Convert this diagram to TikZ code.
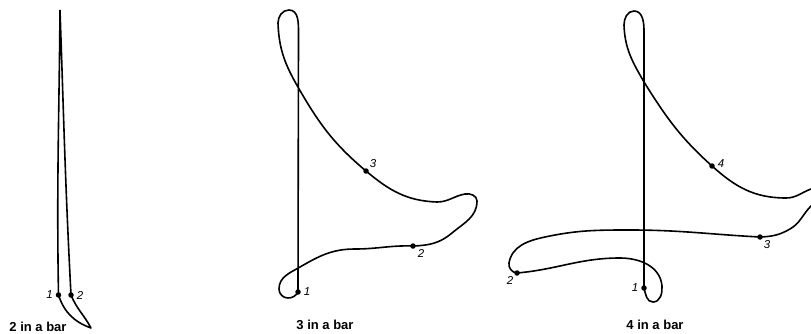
\documentclass[tikz,border=0pt]{standalone}
\usepackage{fontspec}
\setsansfont{Liberation Sans}
\usetikzlibrary{positioning}
\begin{document}
\begin{tikzpicture}
   [x=1pt, y=1pt, line width=1.6pt, line join=round,
    beat/.style={circle,fill,inner sep=0pt,minimum size=5.5pt},
    num/.style={font=\sffamily\itshape\fontsize{11.5}{13}\selectfont, inner sep=0.5pt},
    caption/.style={font=\sffamily\bfseries\fontsize{13}{15}\selectfont, inner sep=0pt}]
   \useasboundingbox (0,0) rectangle (811,333);
   \clip (0,0) rectangle (811,333);

   % 2 in a bar
   \coordinate (top2) at (60,323);
   \coordinate (tip2) at (91,5);
   \node[beat] (a1) at (58.5,38) {};
   \node[beat] (a2) at (71,38) {};
   \node[num, left=1pt of a1] (na1) {1};
   \node[num, right=1pt of a2] (na2) {2};
   \node[caption] (cap2) at (38,6) {2 in a bar};
   \draw (top2) to[out=-90.5,in=91] (a1.center) to[out=-72,in=160] (tip2)
         to[out=118,in=-68] (a2.center) to[out=93,in=-88] (top2);

   % 3 in a bar
   \node[beat] (b1) at (298,41) {};
   \node[beat] (b2) at (413,87) {};
   \node[beat] (b3) at (366,162) {};
   \node[num, right=1pt of b1] (nb1) {1};
   \node[num, below right=0pt and 1pt of b2] (nb2) {2};
   \node[num, above right=0pt of b3] (nb3) {3};
   \node[caption] (cap3) at (325,8) {3 in a bar};
   \draw (b1.center) -- (298.5,300) to[out=90,in=0] (289,323) to[out=180,in=90] (278,310)
     to[out=-88,in=120] (298.5,245) to[out=-60,in=140] (b3.center)
     to[out=-40,in=178] (437,131) to[out=0,in=190] (465,139) to[out=10,in=90] (477,132)
     to[out=-90,in=40] (452,100) to[out=-140,in=2] (b2.center)
     to[out=178,in=0] (355,84) to[out=180,in=30] (300,66) to[out=-150,in=90] (279,44)
     to[out=-90,in=180] (288,35) to[out=0,in=-120] (b1.center);

   % 4 in a bar
   \node[beat] (c1) at (644,45) {};
   \node[beat] (c2) at (517,60) {};
   \node[beat] (c3) at (760,96) {};
   \node[beat] (c4) at (712,167) {};
   \node[num, left=1pt of c1] (nc1) {1};
   \node[num, below left=0pt of c2] (nc2) {2};
   \node[num, below right=0pt of c3] (nc3) {3};
   \node[num, right=1pt of c4, yshift=2pt] (nc4) {4};
   \node[caption] (cap4) at (655,8) {4 in a bar};
   \draw (c1.center) -- (644,302) to[out=90,in=0] (634,322) to[out=180,in=90] (624,308)
     to[out=-88,in=120] (644,251) to[out=-58,in=138] (c4.center)
     to[out=-42,in=180] (786,135) to[out=0,in=200] (811,144) to[out=20,in=90] (830,135)
     to[out=-90,in=45] (811,127) to[out=-135,in=30] (790,104) to[out=-150,in=2] (c3.center)
     to[out=177,in=0] (630,103) to[out=180,in=12] (545,96) to[out=-168,in=80] (509,70)
     to[out=-100,in=175] (c2.center)
     to[out=5,in=180] (620,75) to[out=0,in=95] (662,47) to[out=-85,in=0] (653,31)
     to[out=180,in=-75] (c1.center);
\end{tikzpicture}
\end{document}
